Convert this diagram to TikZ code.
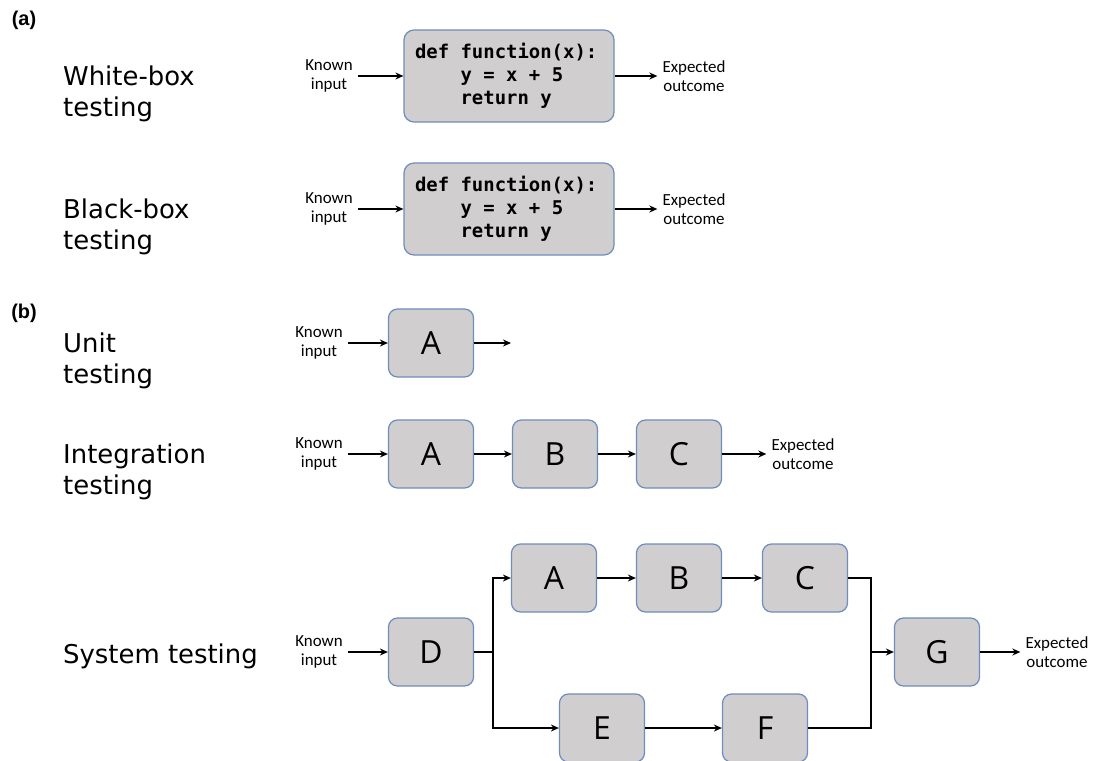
\documentclass[tikz,border=0pt]{standalone}
\usepackage{fontspec}
\setmainfont{Open Sans}
\setmonofont{DejaVu Sans Mono}
\newfontfamily\namefont{DejaVu Sans}
\newfontfamily\iofont{Carlito}
\newfontfamily\tagfont{Liberation Sans}
\usetikzlibrary{arrows.meta}
\definecolor{boxfill}{RGB}{208,206,206}
\definecolor{boxline}{RGB}{112,140,190}
\newcommand\csp{\hphantom{x}}

\tikzset{
  codebox/.style={draw=boxline,fill=boxfill,line width=1.2bp,rounded corners=10bp,
    text width=188bp,inner sep=11bp,minimum height=92bp,align=left,
    font=\ttfamily\bfseries\fontsize{19}{23}\selectfont},
  unitbox/.style={draw=boxline,fill=boxfill,line width=1.2bp,rounded corners=9bp,
    minimum width=85bp,minimum height=68bp,font=\fontsize{32}{38}\selectfont},
  iotext/.style={align=center,inner sep=5bp,font=\iofont\fontsize{17}{19}\selectfont},
  testname/.style={anchor=west,align=left,inner sep=0pt,font=\namefont\fontsize{26}{31}\selectfont},
  parttag/.style={inner sep=0pt,font=\tagfont\bfseries\fontsize{20}{22}\selectfont},
  flow/.style={->,line width=2.2bp},
}

\begin{document}
\begin{tikzpicture}[x=1bp,y=-1bp,>={Stealth[length=8bp,width=7bp]},line join=miter]
\useasboundingbox (0,0) rectangle (1094,761);

% (a) white-box / black-box
\node[parttag] (taga) at (24,20) {(a)};
\node[testname] (wbname) at (63,94) {White-box\\testing};
\node[testname] (bbname) at (63,227) {Black-box\\testing};

\node[codebox] (wb) at (509,76) {def\csp function(x):\\\csp\csp\csp\csp y\csp=\csp x\csp+\csp5\\\csp\csp\csp\csp return\csp y};
\node[iotext] (wbin) at (329,76) {Known\\input};
\node[iotext] (wbout) at (694,76) {Expected\\outcome};
\draw[flow] (wbin) -- (wb);
\draw[flow] (wb) -- (wbout);

\node[codebox] (bb) at (509,209) {def\csp function(x):\\\csp\csp\csp\csp y\csp=\csp x\csp+\csp5\\\csp\csp\csp\csp return\csp y};
\node[iotext] (bbin) at (329,209) {Known\\input};
\node[iotext] (bbout) at (694,209) {Expected\\outcome};
\draw[flow] (bbin) -- (bb);
\draw[flow] (bb) -- (bbout);

% (b) unit / integration / system
\node[parttag] (tagb) at (24,313) {(b)};
\node[testname] (uname) at (63,361) {Unit\\testing};
\node[testname] (iname) at (63,472) {Integration\\testing};
\node[testname] (sname) at (63,656) {System testing};

\node[unitbox] (uA) at (431,343) {A};
\node[iotext] (uin) at (319,343) {Known\\input};
\coordinate (uout) at (511,343);
\draw[flow] (uin) -- (uA);
\draw[flow] (uA) -- (uout);

\node[unitbox] (iA) at (431,454) {A};
\node[unitbox] (iB) at (555,454) {B};
\node[unitbox] (iC) at (679,454) {C};
\node[iotext] (iin) at (319,454) {Known\\input};
\node[iotext] (iout) at (803,454) {Expected\\outcome};
\draw[flow] (iin) -- (iA);
\draw[flow] (iA) -- (iB);
\draw[flow] (iB) -- (iC);
\draw[flow] (iC) -- (iout);

\node[unitbox] (sD) at (431,652) {D};
\node[unitbox] (sA) at (554,578) {A};
\node[unitbox] (sB) at (679,578) {B};
\node[unitbox] (sC) at (805,578) {C};
\node[unitbox] (sE) at (602,728) {E};
\node[unitbox] (sF) at (765,728) {F};
\node[unitbox] (sG) at (937,652) {G};
\node[iotext] (sin) at (319,652) {Known\\input};
\node[iotext] (sout) at (1057,652) {Expected\\outcome};
\coordinate (split) at (493,652);
\coordinate (merge) at (871,652);
\draw[flow] (sin) -- (sD);
\draw[line width=2.2bp] (sD) -- (split);
\draw[flow] (split) |- (sA);
\draw[flow] (split) |- (sE);
\draw[flow] (sA) -- (sB);
\draw[flow] (sB) -- (sC);
\draw[flow] (sE) -- (sF);
\draw[line width=2.2bp] (sC) -| (merge);
\draw[line width=2.2bp] (sF) -| (merge);
\draw[flow] (merge) -- (sG);
\draw[flow] (sG) -- (sout);
\end{tikzpicture}
\end{document}
